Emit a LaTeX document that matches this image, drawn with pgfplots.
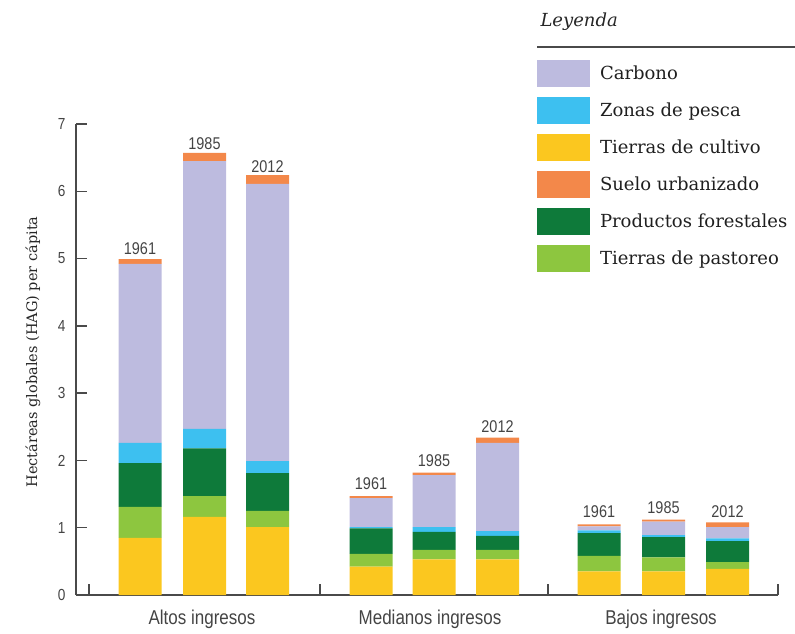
\documentclass[border=0pt]{standalone}
\usepackage{pgfplots}
\pgfplotsset{compat=1.18}
\usepackage{pgfplotstable}
\usepackage{fontspec}
\setmainfont{DejaVu Serif}
\newfontfamily\cond[FakeStretch=0.85]{Liberation Sans}
\definecolor{carb}{HTML}{BDBBDF}
\definecolor{pesc}{HTML}{3DC0F0}
\definecolor{cult}{HTML}{FBC71F}
\definecolor{urb}{HTML}{F3884A}
\definecolor{fore}{HTML}{0E7A3A}
\definecolor{past}{HTML}{8DC63F}
\definecolor{axisgray}{HTML}{4A4A4A}
\definecolor{labgray}{HTML}{444444}

\pgfplotstableread{
x     cult past fore pesc carb urb  year
14.0  0.85 0.46 0.65 0.30 2.66 0.07 1961
20.45 1.16 0.31 0.71 0.29 3.98 0.12 1985
26.75 1.01 0.24 0.56 0.18 4.12 0.13 2012
37.1  0.42 0.19 0.38 0.02 0.43 0.03 1961
43.4  0.53 0.14 0.27 0.07 0.77 0.04 1985
49.75 0.53 0.14 0.21 0.07 1.31 0.08 2012
59.9  0.35 0.23 0.34 0.04 0.06 0.03 1961
66.35 0.35 0.21 0.30 0.03 0.20 0.03 1985
72.75 0.39 0.10 0.31 0.04 0.17 0.07 2012
}\datatable

\begin{document}
\begin{tikzpicture}
\useasboundingbox (0,0) rectangle (795bp,634bp);
\begin{axis}[
  at={(76bp,39bp)}, anchor=south west,
  scale only axis, width=702bp, height=471bp,
  xmin=7.6, xmax=77.8, ymin=0, ymax=7,
  clip=false,
  axis lines*=left,
  axis line style={draw=axisgray, line width=1.3bp},
  tick align=inside,
  major tick length=11bp,
  tick style={draw=axisgray, line width=1.3bp},
  ytick={0,1,2,3,4,5,6,7},
  xtick={8.9,32.0,54.8,77.8},
  xticklabels={},
  extra x ticks={20.2,43.0,66.1},
  extra x tick labels={Altos ingresos,Medianos ingresos,Bajos ingresos},
  extra x tick style={tick style={draw=none}},
  /pgf/number format/assume math mode=true,
  yticklabel style={font=\cond\fontsize{16bp}{18bp}\selectfont, text=labgray, xshift=-7bp},
  xticklabel style={font=\cond\fontsize{20bp}{22bp}\selectfont, text=labgray, yshift=-11bp},
  ylabel={Hectáreas globales (HAG) per cápita},
  ylabel style={at={(axis description cs:-0.0613,0.516)}, anchor=center, font=\fontsize{14.5bp}{16bp}\selectfont, text=black!85},
  ybar stacked, bar width=4.3,
  legend image code/.code={\fill[#1] (0bp,-13.5bp) rectangle (53bp,13.5bp);},
  legend cell align=left,
  legend style={at={(axis description cs:0.6567,1.1359)}, anchor=north west,
    draw=none, fill=none, inner sep=0pt, outer sep=0pt,
    row sep=10bp, column sep=10bp,
    font=\fontsize{18bp}{20bp}\selectfont, text=black!88,
    nodes={inner sep=0pt}},
]
\addlegendimage{fill=carb, draw=none}\addlegendentry{Carbono}
\addlegendimage{fill=pesc, draw=none}\addlegendentry{Zonas de pesca}
\addlegendimage{fill=cult, draw=none}\addlegendentry{Tierras de cultivo}
\addlegendimage{fill=urb, draw=none}\addlegendentry{Suelo urbanizado}
\addlegendimage{fill=fore, draw=none}\addlegendentry{Productos forestales}
\addlegendimage{fill=past, draw=none}\addlegendentry{Tierras de pastoreo}

\addplot[fill=cult, draw=none] table[x=x, y=cult] {\datatable};
\addplot[fill=past, draw=none] table[x=x, y=past] {\datatable};
\addplot[fill=fore, draw=none] table[x=x, y=fore] {\datatable};
\addplot[fill=pesc, draw=none] table[x=x, y=pesc] {\datatable};
\addplot[fill=carb, draw=none] table[x=x, y=carb] {\datatable};
\addplot[fill=urb, draw=none,
  point meta=explicit symbolic,
  nodes near coords,
  nodes near coords style={font=\cond\fontsize{17bp}{18bp}\selectfont, text=labgray, anchor=south, inner sep=0pt, yshift=7bp}
] table[x=x, y=urb, meta=year] {\datatable};
\end{axis}
\node[anchor=base west, font=\itshape\fontsize{18bp}{20bp}\selectfont, text=black!85] at (537bp,607bp) {Leyenda};
\draw[axisgray, line width=1.4bp] (537bp,587bp) -- (795bp,587bp);
\end{tikzpicture}
\end{document}
